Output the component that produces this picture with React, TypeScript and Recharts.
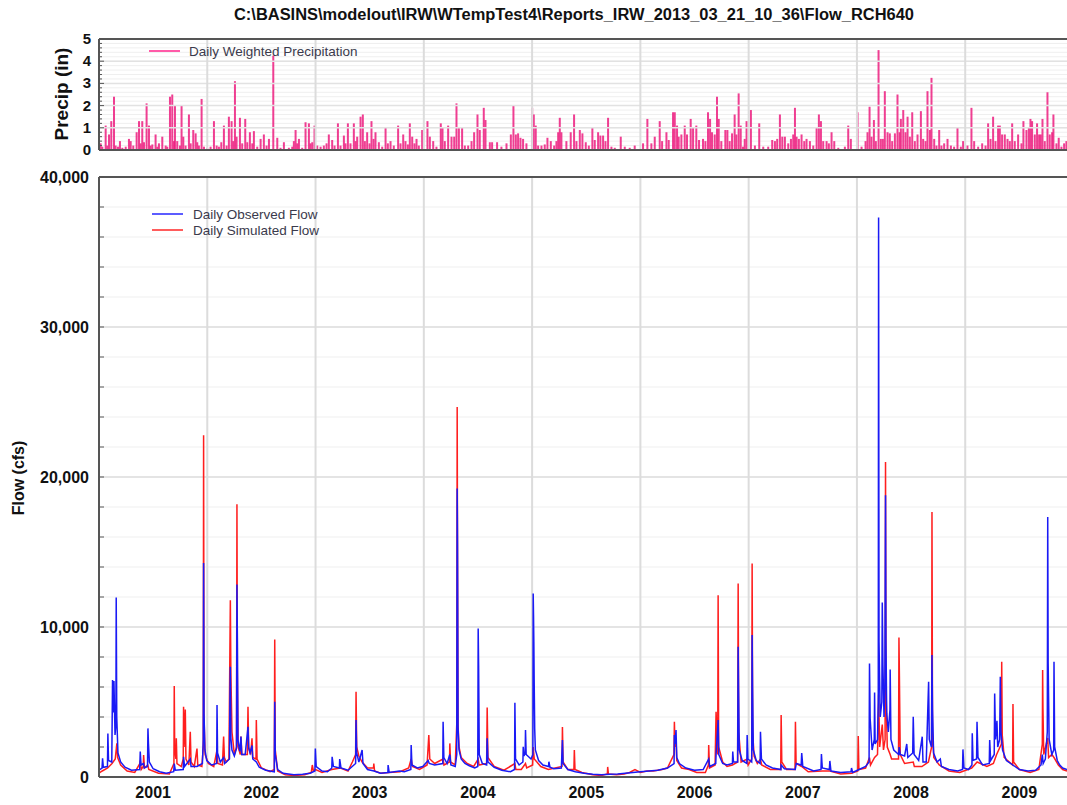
import { BarChart, Bar, LineChart, Line, XAxis, YAxis, CartesianGrid, ReferenceLine } from "recharts";

// ─── Data (decimal years) ─────────────────────────────────────────────────────

// daily weighted precipitation, inches
const precipitation: [number, number][] = [
  [2001.016, 0.3], [2001.031, 0.15], [2001.062, 1.1], [2001.077, 0.2], [2001.093, 0.7], [2001.114, 1.3],
  [2001.139, 2.4], [2001.154, 0.2], [2001.176, 0.15], [2001.194, 0.4], [2001.216, 0.1], [2001.247, 0.15],
  [2001.277, 0.5], [2001.293, 0.4], [2001.317, 0.2], [2001.348, 0.8], [2001.37, 1.3], [2001.385, 0.3],
  [2001.4, 1.3], [2001.416, 0.35], [2001.44, 2.1], [2001.462, 1.1], [2001.477, 0.2], [2001.493, 0.25],
  [2001.523, 0.7], [2001.539, 0.15], [2001.554, 0.3], [2001.585, 0.6], [2001.616, 0.2], [2001.631, 0.15],
  [2001.656, 2.4], [2001.677, 2.5], [2001.693, 0.4], [2001.702, 2.0], [2001.723, 0.4], [2001.748, 0.2],
  [2001.763, 2.0], [2001.779, 0.6], [2001.8, 0.2], [2001.831, 1.6], [2001.847, 0.3], [2001.871, 0.9],
  [2001.893, 0.75], [2001.908, 0.35], [2001.923, 0.2], [2001.948, 2.3], [2001.97, 0.15], [2002.0, 0.1],
  [2002.031, 0.15], [2002.062, 1.3], [2002.087, 0.2], [2002.108, 0.15], [2002.13, 0.35], [2002.154, 1.1],
  [2002.179, 0.2], [2002.2, 1.5], [2002.225, 1.3], [2002.24, 0.4], [2002.256, 3.1], [2002.271, 0.6],
  [2002.302, 1.45], [2002.323, 0.3], [2002.351, 1.4], [2002.37, 0.35], [2002.394, 0.8], [2002.416, 0.3],
  [2002.431, 0.85], [2002.462, 0.15], [2002.493, 0.5], [2002.523, 0.7], [2002.548, 0.2], [2002.57, 0.5],
  [2002.61, 4.25], [2002.647, 0.55], [2002.677, 0.1], [2002.708, 0.35], [2002.754, 0.1], [2002.785, 0.15],
  [2002.8, 0.4], [2002.816, 0.9], [2002.831, 0.3], [2002.847, 0.5], [2002.877, 0.1], [2002.908, 1.25],
  [2002.939, 1.2], [2002.954, 0.3], [2002.97, 0.35], [2002.991, 1.1], [2003.016, 0.2], [2003.047, 0.15],
  [2003.077, 0.2], [2003.102, 0.3], [2003.123, 0.7], [2003.154, 0.45], [2003.176, 0.2], [2003.207, 1.2],
  [2003.231, 0.2], [2003.262, 0.65], [2003.277, 0.3], [2003.299, 1.2], [2003.323, 0.3], [2003.354, 1.2],
  [2003.37, 0.4], [2003.385, 0.6], [2003.416, 1.5], [2003.437, 1.6], [2003.456, 0.4], [2003.477, 0.8],
  [2003.499, 0.3], [2003.517, 1.3], [2003.536, 0.5], [2003.554, 0.8], [2003.585, 0.35], [2003.616, 0.15],
  [2003.647, 1.0], [2003.668, 0.3], [2003.693, 0.4], [2003.723, 0.2], [2003.763, 1.1], [2003.785, 0.3],
  [2003.81, 0.7], [2003.831, 0.4], [2003.853, 0.25], [2003.871, 1.2], [2003.893, 0.6], [2003.914, 0.3],
  [2003.933, 0.5], [2003.954, 0.2], [2003.985, 0.9],
  [2004.034, 1.3], [2004.056, 0.6], [2004.087, 0.4], [2004.117, 0.15], [2004.157, 1.2], [2004.173, 1.0],
  [2004.194, 0.4], [2004.225, 1.1], [2004.256, 0.6], [2004.281, 0.6], [2004.302, 2.1], [2004.324, 1.0],
  [2004.354, 1.0], [2004.379, 0.2], [2004.41, 0.2], [2004.441, 0.4], [2004.465, 0.8], [2004.496, 1.6],
  [2004.517, 0.9], [2004.554, 1.9], [2004.57, 1.35], [2004.61, 0.35], [2004.631, 0.35], [2004.677, 0.35],
  [2004.717, 0.15], [2004.764, 0.3], [2004.804, 0.7], [2004.828, 2.0], [2004.85, 0.7], [2004.871, 0.75],
  [2004.893, 0.55], [2004.917, 0.5], [2004.948, 0.3], [2005.001, 1.9], [2005.016, 1.6], [2005.034, 1.1],
  [2005.056, 0.2], [2005.087, 0.2], [2005.117, 0.25], [2005.142, 0.55], [2005.173, 0.4], [2005.204, 0.2],
  [2005.225, 0.4], [2005.241, 0.8], [2005.256, 1.45], [2005.271, 0.8], [2005.317, 0.4], [2005.357, 0.8],
  [2005.388, 1.6], [2005.41, 0.4], [2005.441, 0.9], [2005.465, 0.75], [2005.496, 0.35], [2005.524, 0.2],
  [2005.557, 1.0], [2005.579, 0.45], [2005.61, 0.8], [2005.631, 0.65], [2005.656, 0.65], [2005.678, 0.4],
  [2005.702, 1.45], [2005.733, 0.15], [2005.764, 0.1], [2005.819, 0.6], [2005.856, 0.15], [2005.902, 0.1],
  [2005.948, 0.2], [2006.025, 0.3], [2006.065, 1.4], [2006.102, 0.3], [2006.133, 0.6], [2006.179, 1.3],
  [2006.201, 0.4], [2006.241, 0.8], [2006.262, 0.45], [2006.302, 1.7], [2006.318, 1.7], [2006.339, 1.1],
  [2006.354, 0.6], [2006.379, 0.7], [2006.41, 1.1], [2006.431, 0.7], [2006.465, 1.4], [2006.487, 1.0],
  [2006.517, 1.1], [2006.542, 0.45], [2006.579, 0.5], [2006.601, 0.4], [2006.625, 1.7], [2006.644, 1.4],
  [2006.662, 0.8], [2006.687, 0.7], [2006.708, 2.4], [2006.724, 1.4], [2006.748, 0.4], [2006.785, 0.9],
  [2006.804, 0.9], [2006.825, 0.4], [2006.847, 0.75], [2006.871, 1.6], [2006.887, 0.7], [2006.908, 2.55],
  [2006.927, 1.1], [2006.948, 0.15], [2006.964, 0.5],
  [2006.981, 1.3], [2007.021, 1.8], [2007.058, 0.2], [2007.098, 1.2], [2007.135, 0.15], [2007.181, 0.15],
  [2007.218, 0.45], [2007.243, 0.4], [2007.264, 0.5], [2007.289, 1.6], [2007.311, 0.6], [2007.335, 0.6],
  [2007.366, 0.3], [2007.391, 0.5], [2007.412, 0.7], [2007.428, 1.9], [2007.443, 0.6], [2007.464, 0.5],
  [2007.489, 0.7], [2007.514, 0.4], [2007.535, 0.5], [2007.566, 0.4], [2007.597, 0.2], [2007.628, 1.0],
  [2007.649, 1.6], [2007.668, 1.3], [2007.689, 0.4], [2007.72, 0.4], [2007.741, 0.3], [2007.766, 0.8],
  [2007.791, 0.4], [2007.828, 0.1], [2007.889, 0.15], [2007.92, 1.1], [2007.944, 0.5], [2008.006, 1.7],
  [2008.043, 0.15], [2008.08, 0.4], [2008.098, 0.8], [2008.117, 1.95], [2008.135, 0.6], [2008.157, 1.35],
  [2008.175, 0.4], [2008.2, 4.5], [2008.221, 0.5], [2008.24, 0.5], [2008.258, 2.65], [2008.283, 0.8],
  [2008.304, 0.75], [2008.326, 0.4], [2008.351, 0.75], [2008.375, 2.5], [2008.394, 0.8], [2008.406, 1.4],
  [2008.428, 1.8], [2008.449, 0.8], [2008.468, 1.5], [2008.489, 0.6], [2008.511, 1.7], [2008.535, 0.4],
  [2008.56, 0.7], [2008.591, 1.75], [2008.612, 0.5], [2008.634, 0.4], [2008.652, 2.65], [2008.674, 0.9],
  [2008.689, 3.25], [2008.714, 0.5], [2008.735, 0.2], [2008.76, 0.9], [2008.781, 0.2], [2008.806, 0.3],
  [2008.837, 0.5], [2008.868, 0.2], [2008.898, 0.15], [2008.929, 1.0], [2008.96, 0.15], [2008.981, 0.4],
  [2009.021, 0.2], [2009.058, 1.9], [2009.083, 0.4], [2009.12, 0.15], [2009.157, 0.3], [2009.188, 0.2],
  [2009.212, 1.2], [2009.234, 0.5], [2009.258, 1.5], [2009.28, 0.4], [2009.304, 1.1], [2009.32, 1.1],
  [2009.341, 0.7], [2009.366, 0.7], [2009.391, 0.5], [2009.412, 0.4], [2009.434, 1.2], [2009.458, 0.4],
  [2009.489, 0.7], [2009.52, 0.3], [2009.538, 1.3], [2009.566, 0.9], [2009.588, 1.0], [2009.603, 1.4],
  [2009.618, 1.3], [2009.643, 0.7], [2009.664, 1.2], [2009.683, 0.7], [2009.698, 0.7], [2009.714, 1.4],
  [2009.735, 0.4], [2009.76, 2.6], [2009.781, 0.7], [2009.803, 0.8], [2009.815, 1.6], [2009.843, 0.3],
  [2009.864, 0.55], [2009.889, 0.15], [2009.914, 0.3], [2009.935, 0.4],
];

// daily observed flow, cfs
const observedFlow: [number, number][] = [
  [2001.0, 450], [2001.028, 600], [2001.033, 1250], [2001.04, 650], [2001.078, 700], [2001.082, 2900],
  [2001.088, 1100], [2001.118, 1000], [2001.125, 6460], [2001.13, 4300], [2001.138, 6400], [2001.148, 2800],
  [2001.156, 3500], [2001.159, 11970], [2001.164, 4000], [2001.175, 1600], [2001.2, 1000], [2001.24, 650],
  [2001.3, 450], [2001.376, 500], [2001.381, 1700], [2001.388, 800], [2001.412, 900], [2001.418, 600],
  [2001.448, 700], [2001.452, 3240], [2001.457, 2200], [2001.465, 1000], [2001.5, 550], [2001.56, 350],
  [2001.62, 250], [2001.69, 350], [2001.695, 900], [2001.705, 450], [2001.778, 500], [2001.781, 1350],
  [2001.79, 700], [2001.843, 1200], [2001.85, 700], [2001.905, 700], [2001.955, 900], [2001.963, 2500],
  [2001.966, 14270], [2001.97, 4240], [2001.978, 1800], [2001.995, 1100], [2002.04, 800], [2002.087, 900],
  [2002.09, 4800], [2002.095, 1600], [2002.12, 1000], [2002.151, 1300], [2002.16, 900], [2002.205, 1200],
  [2002.209, 5000], [2002.213, 7350], [2002.218, 2600], [2002.228, 1800], [2002.25, 1400], [2002.27, 1900],
  [2002.274, 12830], [2002.278, 9010], [2002.283, 2500], [2002.3, 1700], [2002.311, 2700], [2002.318, 1500],
  [2002.35, 1500], [2002.36, 2200], [2002.376, 3350], [2002.383, 1900], [2002.395, 1600], [2002.413, 2100],
  [2002.42, 1200], [2002.453, 1000], [2002.48, 650], [2002.54, 450], [2002.619, 350], [2002.623, 5020],
  [2002.628, 1500], [2002.65, 500], [2002.7, 250], [2002.8, 150], [2002.88, 180], [2002.95, 250],
  [2002.994, 400], [2002.998, 1900], [2003.006, 700], [2003.06, 400], [2003.11, 350], [2003.15, 600],
  [2003.153, 1350], [2003.165, 700], [2003.22, 600], [2003.223, 1200], [2003.235, 600], [2003.3, 450],
  [2003.37, 900], [2003.374, 3800], [2003.38, 1600], [2003.4, 1000], [2003.43, 1800], [2003.438, 900],
  [2003.48, 500], [2003.54, 400], [2003.6, 250], [2003.668, 300], [2003.67, 800], [2003.68, 300],
  [2003.775, 400], [2003.82, 350], [2003.88, 500], [2003.883, 2130], [2003.89, 800], [2003.94, 600],
  [2003.99, 700], [2004.04, 1100], [2004.05, 900], [2004.1, 800], [2004.175, 900], [2004.178, 3690],
  [2004.185, 1300], [2004.215, 900], [2004.24, 1500], [2004.25, 800], [2004.29, 700], [2004.304, 1500],
  [2004.308, 19230], [2004.311, 15670], [2004.316, 3300], [2004.325, 1800], [2004.345, 1200], [2004.38, 900],
  [2004.42, 750], [2004.47, 600], [2004.498, 700], [2004.502, 9900], [2004.506, 7460], [2004.512, 1500],
  [2004.54, 900], [2004.58, 800], [2004.585, 2580], [2004.592, 1000], [2004.65, 650], [2004.72, 450],
  [2004.8, 350], [2004.838, 500], [2004.841, 4950], [2004.847, 1200], [2004.88, 800], [2004.915, 1000],
  [2004.918, 2020], [2004.925, 1400], [2004.936, 1600], [2004.939, 3130], [2004.945, 1500], [2004.99, 1200],
  [2005.007, 1500], [2005.01, 12230], [2005.013, 10790], [2005.016, 9010], [2005.019, 6460], [2005.024, 3200],
  [2005.03, 1800], [2005.06, 1100], [2005.1, 800], [2005.152, 700], [2005.155, 1020], [2005.165, 650],
  [2005.2, 550], [2005.27, 600], [2005.28, 2470], [2005.286, 900], [2005.33, 500], [2005.4, 350],
  [2005.48, 250], [2005.56, 180], [2005.64, 150], [2005.72, 180], [2005.79, 200], [2005.86, 250],
  [2005.93, 300], [2006.0, 350], [2006.08, 400], [2006.16, 450], [2006.25, 600], [2006.311, 900],
  [2006.314, 2800], [2006.32, 2200], [2006.329, 3130], [2006.336, 1300], [2006.36, 900], [2006.42, 600],
  [2006.5, 450], [2006.58, 500], [2006.631, 1200], [2006.64, 700], [2006.696, 900], [2006.699, 1500],
  [2006.718, 3800], [2006.724, 1500], [2006.76, 900], [2006.8, 800], [2006.85, 900], [2006.853, 1700],
  [2006.86, 1000], [2006.898, 1000], [2006.903, 8680], [2006.907, 5680], [2006.913, 1800], [2006.94, 1100],
  [2006.983, 900], [2006.986, 2800], [2006.993, 1200], [2007.028, 1000], [2007.032, 9460], [2007.036, 6000],
  [2007.043, 1800], [2007.07, 1100], [2007.106, 900], [2007.109, 3020], [2007.118, 1200], [2007.16, 800],
  [2007.22, 600], [2007.298, 500], [2007.3, 800], [2007.33, 550], [2007.43, 500], [2007.44, 900],
  [2007.485, 800], [2007.49, 1600], [2007.5, 700], [2007.6, 400], [2007.668, 500], [2007.672, 1530],
  [2007.68, 600], [2007.745, 500], [2007.75, 1070], [2007.76, 400], [2007.85, 300], [2007.945, 350],
  [2007.95, 600], [2007.96, 300], [2008.02, 500], [2008.08, 700], [2008.112, 1000], [2008.116, 7570],
  [2008.122, 3900], [2008.14, 1800], [2008.16, 2500], [2008.163, 5640], [2008.168, 2200], [2008.19, 2500],
  [2008.197, 5000], [2008.2, 37300], [2008.204, 9000], [2008.215, 4000], [2008.23, 5000], [2008.234, 11630],
  [2008.24, 7460], [2008.25, 4000], [2008.258, 6000], [2008.264, 18780], [2008.268, 9000], [2008.275, 4240],
  [2008.29, 3000], [2008.305, 4500], [2008.307, 7170], [2008.314, 2500], [2008.34, 1800], [2008.385, 1500],
  [2008.39, 2000], [2008.4, 1500], [2008.44, 1400], [2008.46, 2200], [2008.47, 1300], [2008.515, 1600],
  [2008.52, 4020], [2008.528, 1500], [2008.57, 1100], [2008.603, 2690], [2008.61, 1000], [2008.64, 1000],
  [2008.662, 6350], [2008.668, 2500], [2008.688, 2000], [2008.693, 8130], [2008.698, 4500], [2008.708, 1600],
  [2008.74, 1000], [2008.77, 1200], [2008.78, 700], [2008.85, 500], [2008.93, 400], [2008.975, 500],
  [2008.979, 1840], [2008.988, 600], [2009.03, 500], [2009.062, 800], [2009.065, 2910], [2009.072, 1100],
  [2009.105, 1200], [2009.109, 3690], [2009.118, 1300], [2009.16, 800], [2009.222, 900], [2009.226, 2460],
  [2009.235, 1100], [2009.268, 1500], [2009.272, 5570], [2009.28, 2500], [2009.293, 3750], [2009.3, 2000],
  [2009.318, 2500], [2009.324, 6680], [2009.33, 3000], [2009.345, 1800], [2009.38, 1100], [2009.44, 800],
  [2009.5, 500], [2009.58, 400], [2009.65, 450], [2009.7, 800], [2009.712, 1500], [2009.72, 900],
  [2009.74, 1200], [2009.758, 3000], [2009.762, 17340], [2009.766, 7570], [2009.775, 2500], [2009.8, 1500],
  [2009.817, 1800], [2009.82, 7680], [2009.826, 2000], [2009.85, 1100], [2009.873, 800], [2009.9, 600],
  [2009.94, 500],
];

// daily simulated flow, cfs
const simulatedFlow: [number, number][] = [
  [2001.0, 250], [2001.03, 400], [2001.08, 600], [2001.12, 900], [2001.15, 1200], [2001.165, 2240],
  [2001.172, 1300], [2001.2, 800], [2001.26, 400], [2001.33, 300], [2001.378, 900], [2001.381, 1100],
  [2001.39, 500], [2001.409, 700], [2001.412, 1460], [2001.42, 600], [2001.45, 800], [2001.46, 500],
  [2001.55, 250], [2001.65, 200], [2001.692, 900], [2001.695, 6060], [2001.699, 2000], [2001.71, 1200],
  [2001.714, 2580], [2001.72, 900], [2001.76, 700], [2001.778, 1200], [2001.781, 4680], [2001.786, 2000],
  [2001.797, 4500], [2001.803, 1200], [2001.83, 800], [2001.843, 3020], [2001.85, 1000], [2001.88, 700],
  [2001.905, 1900], [2001.912, 800], [2001.95, 700], [2001.963, 2000], [2001.966, 22780], [2001.97, 4000],
  [2001.98, 1500], [2002.01, 900], [2002.06, 700], [2002.09, 1800], [2002.097, 900], [2002.14, 800],
  [2002.151, 2690], [2002.158, 1300], [2002.175, 1000], [2002.2, 1200], [2002.213, 11790], [2002.218, 6900],
  [2002.228, 3000], [2002.25, 1500], [2002.27, 2000], [2002.274, 18180], [2002.278, 7000], [2002.285, 2000],
  [2002.305, 1500], [2002.311, 2700], [2002.32, 1500], [2002.37, 1500], [2002.376, 4680], [2002.382, 2000],
  [2002.4, 1500], [2002.413, 2580], [2002.42, 1300], [2002.45, 1200], [2002.453, 3800], [2002.46, 1200],
  [2002.5, 600], [2002.58, 350], [2002.619, 500], [2002.623, 9170], [2002.628, 1800], [2002.65, 400],
  [2002.72, 150], [2002.8, 100], [2002.9, 150], [2002.96, 300], [2002.97, 800], [2002.98, 400],
  [2003.0, 500], [2003.06, 300], [2003.15, 500], [2003.23, 600], [2003.3, 400], [2003.34, 1000],
  [2003.37, 1500], [2003.374, 5680], [2003.38, 2000], [2003.4, 1400], [2003.43, 1000], [2003.48, 600],
  [2003.535, 600], [2003.538, 900], [2003.545, 400], [2003.6, 250], [2003.68, 300], [2003.78, 350],
  [2003.86, 600], [2003.883, 1200], [2003.895, 700], [2003.96, 500], [2004.03, 800], [2004.046, 2800],
  [2004.055, 1200], [2004.1, 900], [2004.178, 1200], [2004.186, 800], [2004.237, 1000], [2004.24, 2240],
  [2004.247, 1000], [2004.29, 800], [2004.304, 3500], [2004.308, 24660], [2004.311, 15560], [2004.316, 3460],
  [2004.325, 2000], [2004.345, 1300], [2004.4, 900], [2004.46, 700], [2004.502, 1200], [2004.51, 800],
  [2004.58, 900], [2004.585, 4640], [2004.592, 1300], [2004.65, 700], [2004.74, 450], [2004.841, 900],
  [2004.85, 500], [2004.9, 500], [2004.939, 900], [2004.95, 600], [2005.005, 800], [2005.01, 2000],
  [2005.02, 1200], [2005.08, 700], [2005.15, 500], [2005.276, 700], [2005.28, 3340], [2005.286, 1000],
  [2005.33, 500], [2005.386, 500], [2005.39, 1800], [2005.396, 500], [2005.46, 300], [2005.56, 150],
  [2005.64, 100], [2005.695, 200], [2005.698, 670], [2005.705, 200], [2005.78, 150], [2005.85, 200],
  [2005.9, 300], [2005.95, 500], [2006.0, 300], [2006.06, 400], [2006.12, 400], [2006.2, 500],
  [2006.25, 600], [2006.31, 1500], [2006.314, 3690], [2006.32, 2000], [2006.329, 2500], [2006.336, 1100],
  [2006.38, 600], [2006.45, 500], [2006.52, 300], [2006.6, 300], [2006.628, 800], [2006.631, 2130],
  [2006.638, 600], [2006.69, 800], [2006.699, 4350], [2006.714, 1500], [2006.718, 12120], [2006.723, 2000],
  [2006.76, 1000], [2006.8, 700], [2006.85, 800], [2006.898, 1000], [2006.903, 12900], [2006.908, 3000],
  [2006.93, 1000], [2006.986, 1200], [2006.995, 800], [2007.028, 1200], [2007.032, 14230], [2007.037, 3000],
  [2007.05, 1400], [2007.08, 900], [2007.109, 1200], [2007.12, 800], [2007.2, 500], [2007.296, 500],
  [2007.3, 4130], [2007.306, 1000], [2007.35, 500], [2007.428, 500], [2007.432, 3690], [2007.438, 900],
  [2007.49, 700], [2007.55, 350], [2007.68, 400], [2007.75, 400], [2007.85, 200], [2007.95, 250],
  [2008.008, 400], [2008.012, 2730], [2008.018, 500], [2008.08, 600], [2008.116, 1300], [2008.125, 800],
  [2008.163, 1300], [2008.19, 1500], [2008.2, 5500], [2008.21, 2000], [2008.234, 3500], [2008.245, 1800],
  [2008.26, 2500], [2008.264, 21000], [2008.268, 6000], [2008.28, 2000], [2008.307, 1500], [2008.32, 1200],
  [2008.384, 1200], [2008.388, 9300], [2008.392, 6790], [2008.4, 1500], [2008.44, 900], [2008.52, 1000],
  [2008.53, 700], [2008.6, 700], [2008.66, 1000], [2008.69, 2000], [2008.693, 17670], [2008.698, 3000],
  [2008.71, 1300], [2008.76, 800], [2008.85, 400], [2008.95, 300], [2009.06, 600], [2009.11, 1000],
  [2009.2, 700], [2009.26, 900], [2009.29, 1500], [2009.334, 2200], [2009.337, 7680], [2009.342, 2800],
  [2009.36, 1300], [2009.438, 800], [2009.441, 4860], [2009.447, 1000], [2009.5, 500], [2009.6, 300],
  [2009.68, 500], [2009.712, 2200], [2009.715, 7130], [2009.718, 4570], [2009.725, 1500], [2009.762, 2600],
  [2009.77, 1300], [2009.8, 1500], [2009.82, 1300], [2009.86, 800], [2009.9, 500], [2009.94, 400],
];

const yearBounds = [2002, 2003, 2004, 2005, 2006, 2007, 2008, 2009];
const yearLabelTicks = [2001.5, 2002.5, 2003.5, 2004.5, 2005.5, 2006.5, 2007.5, 2008.5, 2009.5];
const precipTicks = [0, 0.2, 0.4, 0.6, 0.8, 1, 1.2, 1.4, 1.6, 1.8, 2, 2.2, 2.4, 2.6, 2.8, 3, 3.2, 3.4, 3.6, 3.8, 4, 4.2, 4.4, 4.6, 4.8, 5];
const precipMajor = [1, 2, 3, 4];
const flowTicks = [0, 2000, 4000, 6000, 8000, 10000, 12000, 14000, 16000, 18000, 20000, 22000, 24000, 26000, 28000, 30000, 32000, 34000, 36000, 38000, 40000];
const flowMajor = [10000, 20000, 30000];

const X_DOMAIN: [number, number] = [2001, 2009.94];
const TITLE = "C:\\BASINS\\modelout\\IRW\\WTempTest4\\Reports_IRW_2013_03_21_10_36\\Flow_RCH640";

const FONT = "'Liberation Sans', Arial, Helvetica, sans-serif";
const PINK = "#ec1d7f";
const AXIS = "#555";

const precipData = precipitation.map(([t, p]) => ({ t, p }));
const obsData = observedFlow.map(([t, q]) => ({ t, q }));
const simData = simulatedFlow.map(([t, q]) => ({ t, q }));

// ─── Ticks / shapes ───────────────────────────────────────────────────────────

function PrecipYTick({ x, y, payload }: any) {
  const v = payload.value;
  const ax = x + 8;
  const major = Math.abs(v - Math.round(v)) < 1e-6;
  return (
    <g>
      <line x1={ax} x2={ax + (major ? 5 : 3)} y1={y} y2={y} stroke={AXIS} strokeWidth={1} />
      {major && (
        <text x={x} y={y} dy={5} textAnchor="end" fontFamily={FONT} fontSize={15} fontWeight="bold" fill="#111">
          {Math.round(v)}
        </text>
      )}
    </g>
  );
}

function FlowYTick({ x, y, payload }: any) {
  const v = payload.value;
  const ax = x + 10;
  const major = v % 10000 === 0;
  return (
    <g>
      <line x1={ax} x2={ax + 5} y1={y} y2={y} stroke={AXIS} strokeWidth={1} />
      {major && (
        <text x={x} y={y} dy={6} textAnchor="end" fontFamily={FONT} fontSize={16} fontWeight="bold" fill="#111">
          {v.toLocaleString("en-US")}
        </text>
      )}
    </g>
  );
}

function YearTick({ x, y, payload }: any) {
  return (
    <text x={x} y={y} dy={13} textAnchor="middle" fontFamily={FONT} fontSize={16} fontWeight="bold" fill="#111">
      {Math.floor(payload.value)}
    </text>
  );
}

function PrecipBar(props: any) {
  const { x, y, width, height } = props;
  if (!height || height <= 0 || !isFinite(x)) return null;
  const cx = x + (isFinite(width) ? width / 2 : 0);
  return <rect x={cx - 1} y={y} width={2} height={height} fill={PINK} fillOpacity={0.85} />;
}

// ─── App ──────────────────────────────────────────────────────────────────────

export default function App() {
  return (
    <div style={{ position: "absolute", left: 0, top: 0, width: 1067, height: 805, background: "#fff", overflow: "hidden" }}>
      {/* precipitation panel */}
      <div style={{ position: "absolute", left: 0, top: 0 }}>
        <BarChart width={1067} height={160} data={precipData} margin={{ top: 39, right: 0, bottom: 10, left: 59 }}>
          <CartesianGrid horizontal vertical={false} stroke="#efefef" />
          {precipMajor.map((v) => (
            <ReferenceLine key={v} y={v} stroke="#e2e2e2" strokeWidth={1.5} />
          ))}
          {yearBounds.map((yr) => (
            <ReferenceLine key={yr} x={yr} stroke="#dcdcdc" strokeWidth={2} />
          ))}
          <XAxis
            dataKey="t"
            type="number"
            orientation="top"
            mirror
            domain={X_DOMAIN}
            allowDataOverflow
            ticks={yearBounds}
            tick={false}
            tickSize={5}
            tickLine={{ stroke: AXIS, strokeWidth: 2 }}
            axisLine={{ stroke: AXIS, strokeWidth: 2 }}
          />
          <YAxis
            type="number"
            domain={[0, 5]}
            ticks={precipTicks}
            interval={0}
            width={40}
            tickSize={0}
            tickMargin={8}
            tickLine={false}
            tick={<PrecipYTick />}
            axisLine={{ stroke: AXIS, strokeWidth: 2 }}
          />
          <Bar dataKey="p" fill={PINK} barSize={2} shape={<PrecipBar />} isAnimationActive={false} />
          <ReferenceLine y={0} stroke={AXIS} strokeWidth={2} />
        </BarChart>
      </div>

      {/* flow panel */}
      <div style={{ position: "absolute", left: 0, top: 160 }}>
        <LineChart width={1067} height={645} margin={{ top: 17, right: 0, bottom: 0, left: 27 }}>
          <CartesianGrid horizontal vertical={false} stroke="#efefef" />
          {flowMajor.map((v) => (
            <ReferenceLine key={v} y={v} stroke="#dedede" strokeWidth={1.5} />
          ))}
          {yearBounds.map((yr) => (
            <ReferenceLine key={yr} x={yr} stroke="#dcdcdc" strokeWidth={2} />
          ))}
          <XAxis
            dataKey="t"
            type="number"
            domain={X_DOMAIN}
            allowDataOverflow
            ticks={yearLabelTicks}
            interval={0}
            height={28}
            tickSize={0}
            tickMargin={8}
            tickLine={false}
            tick={<YearTick />}
            axisLine={{ stroke: AXIS, strokeWidth: 2 }}
          />
          <YAxis
            type="number"
            domain={[0, 40000]}
            allowDataOverflow
            ticks={flowTicks}
            interval={0}
            width={72}
            tickSize={0}
            tickMargin={10}
            tickLine={false}
            tick={<FlowYTick />}
            axisLine={{ stroke: AXIS, strokeWidth: 2 }}
          />
          <ReferenceLine y={40000} stroke={AXIS} strokeWidth={2} />
          <Line
            data={simData}
            dataKey="q"
            type="linear"
            stroke="#ff1e1e"
            strokeWidth={1.5}
            dot={false}
            isAnimationActive={false}
          />
          <Line
            data={obsData}
            dataKey="q"
            type="linear"
            stroke="#1a1af5"
            strokeWidth={1.5}
            dot={false}
            isAnimationActive={false}
          />
        </LineChart>
      </div>

      {/* titles and legends */}
      <svg width={1067} height={805} style={{ position: "absolute", left: 0, top: 0, pointerEvents: "none" }}>
        <text x={574} y={20} textAnchor="middle" fontFamily={FONT} fontSize={16} fontWeight="bold" fill="#111" textLength={680} lengthAdjust="spacingAndGlyphs">
          {TITLE}
        </text>
        <text transform="translate(61,94) rotate(-90)" textAnchor="middle" dy={7} fontFamily={FONT} fontSize={19} fontWeight="bold" fill="#111">
          Precip (in)
        </text>
        <text transform="translate(18,478) rotate(-90)" textAnchor="middle" dy={6} fontFamily={FONT} fontSize={16} fontWeight="bold" fill="#111">
          Flow (cfs)
        </text>

        <line x1={149} x2={180} y1={51} y2={51} stroke="#ff5aa8" strokeWidth={2} />
        <text x={189} y={55.5} fontFamily={FONT} fontSize={13.5} fill="#3a3a4c">Daily Weighted Precipitation</text>

        <line x1={152} x2={183} y1={214} y2={214} stroke="#5c5cff" strokeWidth={2} />
        <text x={193} y={218.5} fontFamily={FONT} fontSize={13.5} fill="#3a3a4c">Daily Observed Flow</text>
        <line x1={152} x2={183} y1={230} y2={230} stroke="#ff5c5c" strokeWidth={2} />
        <text x={193} y={234.5} fontFamily={FONT} fontSize={13.5} fill="#3a3a4c">Daily Simulated Flow</text>
      </svg>
    </div>
  );
}
